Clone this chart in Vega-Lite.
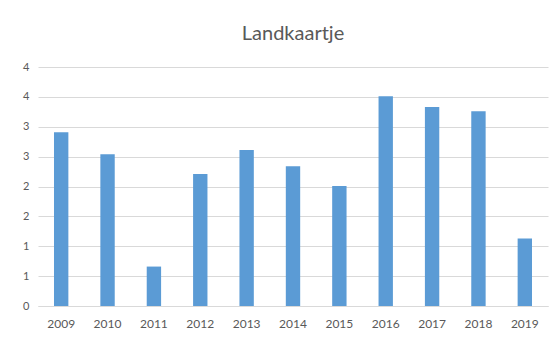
{
  "$schema": "https://vega.github.io/schema/vega-lite/v6.json",
  "autosize": "none",
  "width": 510,
  "height": 239,
  "padding": {"left": 38, "top": 67, "right": 12, "bottom": 36},
  "background": "white",
  "title": {
    "text": "Landkaartje",
    "font": "Lato",
    "fontSize": 20,
    "fontWeight": "normal",
    "color": "#595959",
    "anchor": "middle",
    "baseline": "bottom",
    "offset": -3
  },
  "config": {
    "view": {"stroke": null},
    "font": "Lato"
  },
  "data": {
    "values": [
      {"year": "2009", "value": 2.91},
      {"year": "2010", "value": 2.54},
      {"year": "2011", "value": 0.66},
      {"year": "2012", "value": 2.21},
      {"year": "2013", "value": 2.61},
      {"year": "2014", "value": 2.34},
      {"year": "2015", "value": 2.01},
      {"year": "2016", "value": 3.51},
      {"year": "2017", "value": 3.33},
      {"year": "2018", "value": 3.26},
      {"year": "2019", "value": 1.13}
    ]
  },
  "mark": {"type": "bar", "color": "#5b9bd5"},
  "encoding": {
    "x": {
      "field": "year",
      "type": "ordinal",
      "scale": {"paddingInner": 0.69, "paddingOuter": 0.345},
      "axis": {
        "title": null,
        "labelAngle": 0,
        "labelColor": "#595959",
        "labelFontSize": 12,
        "labelPadding": 12,
        "ticks": false,
        "domainColor": "#d9d9d9"
      }
    },
    "y": {
      "field": "value",
      "type": "quantitative",
      "scale": {"domain": [0, 4], "nice": false},
      "axis": {
        "title": null,
        "values": [0, 0.5, 1, 1.5, 2, 2.5, 3, 3.5, 4],
        "format": ".0f",
        "labelColor": "#595959",
        "labelFontSize": 11,
        "labelPadding": 9,
        "ticks": false,
        "domain": false,
        "gridColor": "#d9d9d9"
      }
    }
  }
}
